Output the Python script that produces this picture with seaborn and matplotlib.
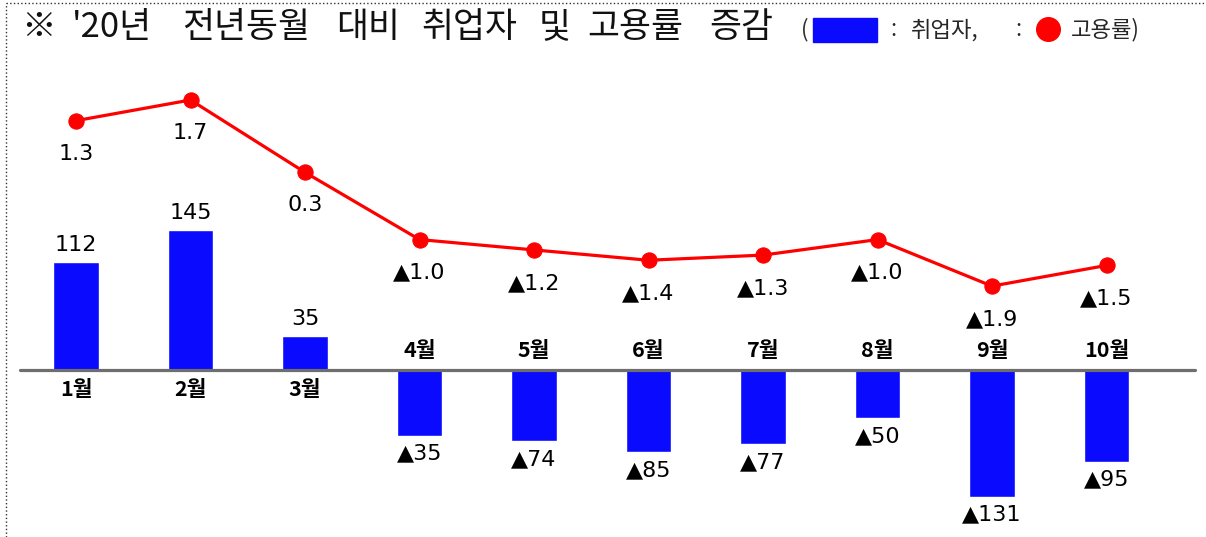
import numpy as np
import pandas as pd
import matplotlib
matplotlib.use("Agg")
import matplotlib.pyplot as plt
from matplotlib.lines import Line2D
from matplotlib.patches import Rectangle
import seaborn as sns

# data
months = ["1월", "2월", "3월", "4월", "5월", "6월", "7월", "8월", "9월", "10월"]
# bar lengths as drawn (the April bar is drawn longer than its label says)
employed = [112, 145, 35, -68, -74, -85, -77, -50, -131, -95]
emp_labels = ["112", "145", "35", "▲35", "▲74", "▲85", "▲77", "▲50", "▲131", "▲95"]
emp_rate = [1.3, 1.7, 0.3, -1.0, -1.2, -1.4, -1.3, -1.0, -1.9, -1.5]
rate_labels = ["1.3", "1.7", "0.3", "▲1.0", "▲1.2", "▲1.4", "▲1.3", "▲1.0", "▲1.9", "▲1.5"]

title_words = ["※", "'20년", "전년동월", "대비", "취업자", "및", "고용률", "증감"]
title_cx = [39, 112, 246, 368, 469, 555, 635, 741]

sns.set_theme(style="white")
plt.rcParams["font.family"] = ["Noto Sans CJK KR", "DejaVu Sans"]
num_font = ["DejaVu Sans"]

df = pd.DataFrame({"month": months, "employed": employed, "rate": emp_rate})

fig = plt.figure(figsize=(12.06, 5.37), dpi=100)
ax = fig.add_axes([0, 0, 1, 1])
ax2 = ax.twinx()

sns.barplot(data=df, x="month", y="employed", ax=ax, color="#0a0aff",
            saturation=1, width=0.4, zorder=2)
ax.axhline(0, xmin=0.0166, xmax=0.991, color="#6e6e6e", lw=2.3, zorder=3)

sns.lineplot(data=df, x="month", y="rate", ax=ax2, color="#ff0000", lw=2.3,
             marker="o", markersize=11, markeredgecolor="#ff0000", sort=False)

ax.set_xlim(-0.664, 9.869)
ax.set_ylim(-172.9, 383)
ax2.set_ylim(-6.753, 3.634)
ax.axis("off")
ax2.axis("off")

# bar value labels and month labels
for i, (m, v, lab) in enumerate(zip(months, employed, emp_labels)):
    off = 17 if v > 0 else -18
    ax.annotate(lab, (i, v), xytext=(0, off * 0.72), textcoords="offset points",
                ha="center", va="center", fontsize=16, family=num_font, color="black")
    moff = -20 if v > 0 else 19
    ax.annotate(m, (i, 0), xytext=(0, moff * 0.72), textcoords="offset points",
                ha="center", va="center", fontsize=15.5, fontweight="bold", color="black")

# employment rate labels under the points
for i, (v, lab) in enumerate(zip(emp_rate, rate_labels)):
    ax2.annotate(lab, (i, v), xytext=(0, -33 * 0.72), textcoords="offset points",
                 ha="center", va="center", fontsize=16, family=num_font, color="black")

# title, word by word
for w, x in zip(title_words, title_cx):
    fig.text(x / 1206, 1 - 28 / 537, w, fontsize=25, ha="center", va="center",
             color="#111111")

# inline legend
ly = 1 - 30 / 537
fig.text(801 / 1206, ly, "(", fontsize=16, ha="left", va="center", color="#333333")
fig.add_artist(Rectangle((813 / 1206, 1 - 42 / 537), 64 / 1206, 24 / 537,
                         transform=fig.transFigure, color="#0a0aff"))
fig.text(890 / 1206, ly, ":", fontsize=16, ha="left", va="center")
fig.text(911 / 1206, ly, "취업자,", fontsize=16, ha="left", va="center")
fig.text(1015 / 1206, ly, ":", fontsize=16, ha="left", va="center")
fig.add_artist(Line2D([1048 / 1206], [1 - 29 / 537], marker="o", markersize=17,
                      color="#ff0000", transform=fig.transFigure))
fig.text(1071 / 1206, ly, "고용률)", fontsize=16, ha="left", va="center")

# dotted frame (top and left)
fig.add_artist(Line2D([6 / 1206, 1], [1 - 3 / 537, 1 - 3 / 537], ls=":", lw=1,
                      color="#333333", transform=fig.transFigure))
fig.add_artist(Line2D([6 / 1206, 6 / 1206], [0, 1 - 3 / 537], ls=":", lw=1,
                      color="#333333", transform=fig.transFigure))

fig.savefig("out.png", dpi=100)
